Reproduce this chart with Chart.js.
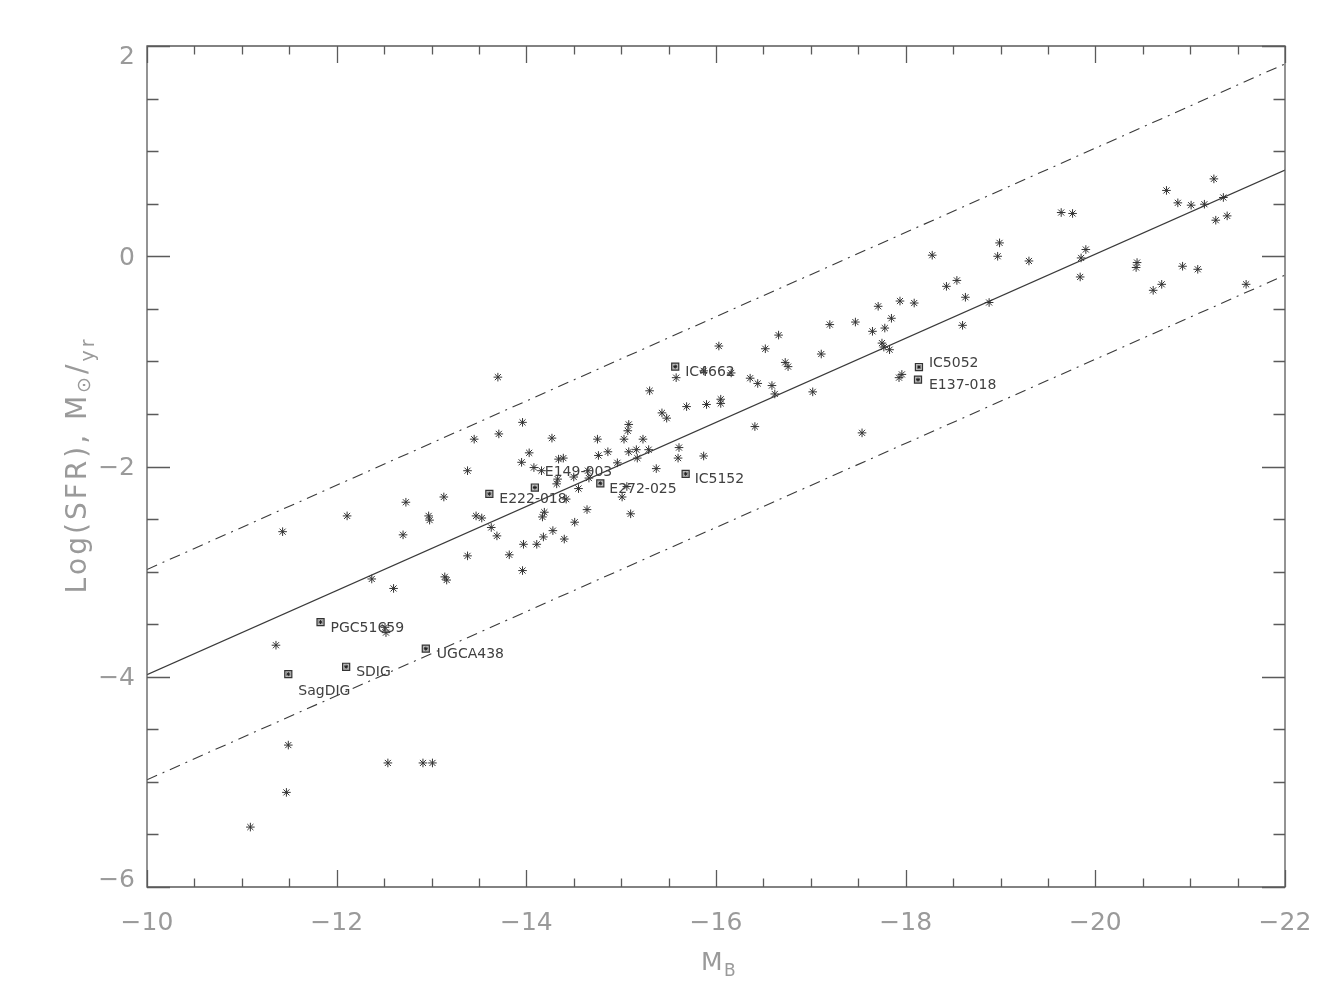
<!DOCTYPE html>
<html>
<head>
<meta charset="utf-8">
<script src="https://cdn.jsdelivr.net/npm/chart.js@4/dist/chart.umd.min.js"></script>
<style>
  html, body { margin: 0; padding: 0; background: #ffffff; }
  #wrap { width: 1331px; height: 981px; }
</style>
</head>
<body>
<div id="wrap"><canvas id="c" width="1331" height="981"></canvas></div>
<script>
// ---- data ----
const starMB = [
  -11.09, -11.43, -11.36, -11.49, -11.47, -12.54, -12.91, -13.01, -12.60, -12.51,
  -12.52, -12.11, -12.73, -12.70, -12.97, -12.98, -12.37, -13.13, -13.14, -13.16,
  -13.96, -13.45, -13.71, -14.27, -14.03, -13.95, -14.34, -14.39, -13.38, -14.08,
  -14.16, -14.33, -14.32, -13.47, -13.53, -14.19, -14.17, -13.63, -13.69, -14.28,
  -14.40, -14.18, -14.11, -13.97, -13.38, -13.82, -13.96, -13.70,
  -15.58, -15.30, -15.69, -15.90, -15.43, -15.48, -15.08, -15.07, -14.75, -15.03,
  -15.23, -14.86, -14.76, -15.08, -15.16, -15.29, -15.17, -14.96, -15.61, -15.60,
  -15.87, -15.37, -14.65, -14.50, -14.66, -14.55, -15.06, -15.01, -14.42, -14.64,
  -14.51, -15.10, -16.05, -16.05,
  -17.20, -17.47, -16.66, -16.03, -16.52, -17.11, -16.73, -16.76, -16.16, -15.87,
  -16.36, -16.44, -16.59, -16.62, -17.02, -16.41, -17.54,
  -18.99, -18.97, -18.28, -19.30, -18.54, -18.43, -18.63, -18.88, -17.94, -18.09,
  -17.71, -17.85, -17.65, -17.78, -18.60, -17.75, -17.77, -17.83, -17.96, -17.93,
  -19.64, -19.76, -19.90, -19.85, -19.84, -20.44, -20.43, -20.70, -20.61, -20.92,
  -21.08, -21.59, -20.75, -20.87, -21.01, -21.15, -21.25, -21.35, -21.27, -21.39
];
const starLogSFR = [
  -5.43, -2.62, -3.70, -4.65, -5.10, -4.82, -4.82, -4.82, -3.16, -3.53,
  -3.58, -2.47, -2.34, -2.65, -2.47, -2.51, -3.07, -2.29, -3.05, -3.08,
  -1.58, -1.74, -1.69, -1.73, -1.87, -1.96, -1.93, -1.92, -2.04, -2.01,
  -2.04, -2.12, -2.165, -2.47, -2.49, -2.435, -2.48, -2.58, -2.66, -2.61,
  -2.69, -2.67, -2.74, -2.74, -2.85, -2.84, -2.99, -1.15,
  -1.155, -1.28, -1.43, -1.41, -1.49, -1.54, -1.60, -1.66, -1.74, -1.74,
  -1.74, -1.86, -1.895, -1.86, -1.84, -1.84, -1.92, -1.965, -1.82, -1.92,
  -1.90, -2.02, -2.04, -2.10, -2.11, -2.21, -2.19, -2.29, -2.31, -2.41,
  -2.53, -2.45, -1.36, -1.40,
  -0.65, -0.626, -0.75, -0.854, -0.88, -0.93, -1.01, -1.05, -1.11, -1.09,
  -1.16, -1.21, -1.23, -1.31, -1.29, -1.62, -1.68,
  0.127, 0.0, 0.01, -0.045, -0.23, -0.286, -0.39, -0.44, -0.426, -0.445,
  -0.476, -0.59, -0.714, -0.683, -0.657, -0.826, -0.864, -0.889, -1.124, -1.155,
  0.416, 0.407, 0.064, -0.016, -0.197, -0.06, -0.107, -0.267, -0.324, -0.095,
  -0.124, -0.267, 0.626, 0.508, 0.486, 0.495, 0.736, 0.559, 0.343, 0.384
];

const namedLabels = ['PGC51659', 'SagDIG', 'SDIG', 'UGCA438', 'E222-018', 'E149-003',
                     'E272-025', 'IC5152', 'IC4662', 'IC5052', 'E137-018'];
const namedMB     = [-11.83, -11.49, -12.10, -12.94, -13.61, -14.09, -14.78, -15.68, -15.57, -18.14, -18.13];
const namedLogSFR = [-3.48, -3.975, -3.905, -3.733, -2.26, -2.20, -2.16, -2.07, -1.05, -1.054, -1.174];

const fitMB       = [-10, -22];
const fitLogSFR   = [-3.98, 0.82];
const upperLogSFR = [-2.98, 1.83];
const lowerLogSFR = [-4.98, -0.18];

const xTickValues = [-10, -12, -14, -16, -18, -20, -22];
const yTickValues = [-6, -4, -2, 0, 2];

// ---- styles / layout (kept separate from data) ----
const LABEL_OFFSETS = {
  'PGC51659': [10, 6], 'SagDIG': [10, 17], 'SDIG': [10, 6], 'UGCA438': [11, 6],
  'E222-018': [10, 6], 'E149-003': [10, -15], 'E272-025': [9, 6], 'IC5152': [9, 6],
  'IC4662': [10, 6], 'IC5052': [10, -4], 'E137-018': [11, 6]
};
const AXIS_COLOR = '#5a5a5a';
const TEXT_GREY = '#9a9a9a';
const INK = '#3a3a3a';

const toPts = (xs, ys) => xs.map((x, i) => ({ x: x, y: ys[i] }));
const fmt = v => (v < 0 ? '\u2212' + Math.abs(v) : String(v));

const framePlugin = {
  id: 'frame',
  afterDatasetsDraw(chart) {
    const { ctx, chartArea: a, scales } = chart;
    const xs = scales.x, ys = scales.y;
    ctx.save();
    ctx.strokeStyle = AXIS_COLOR;
    ctx.lineWidth = 1.3;
    ctx.beginPath();
    ctx.rect(a.left, a.top, a.right - a.left, a.bottom - a.top);
    ctx.stroke();
    ctx.beginPath();
    for (let v = -10; v >= -22 - 1e-9; v -= 0.5) {
      const major = Math.abs(v % 2) < 1e-9;
      const len = major ? 17 : 8.5;
      const px = Math.round(xs.getPixelForValue(v)) + 0.5;
      ctx.moveTo(px, a.bottom); ctx.lineTo(px, a.bottom - len);
      ctx.moveTo(px, a.top); ctx.lineTo(px, a.top + len);
    }
    for (let v = -6; v <= 2 + 1e-9; v += 0.5) {
      const major = Math.abs(v % 2) < 1e-9;
      const len = major ? 23 : 11.5;
      const py = Math.round(ys.getPixelForValue(v)) + 0.5;
      ctx.moveTo(a.left, py); ctx.lineTo(a.left + len, py);
      ctx.moveTo(a.right, py); ctx.lineTo(a.right - len, py);
    }
    ctx.stroke();

    // y tick labels (IDL keeps the end labels inside the axis range)
    ctx.fillStyle = TEXT_GREY;
    ctx.font = '25px "DejaVu Sans"';
    ctx.textAlign = 'right';
    ctx.textBaseline = 'middle';
    ys.ticks.forEach(t => {
      let py = ys.getPixelForValue(t.value);
      py = Math.min(Math.max(py + 2, a.top + 11), a.bottom - 7);
      ctx.fillText(fmt(t.value), a.left - 12, py);
    });

    // galaxy labels
    ctx.fillStyle = '#404040';
    ctx.font = '14px "DejaVu Sans"';
    ctx.textBaseline = 'middle';
    ctx.textAlign = 'left';
    namedLabels.forEach((lab, i) => {
      const px = xs.getPixelForValue(namedMB[i]);
      const py = ys.getPixelForValue(namedLogSFR[i]);
      const off = LABEL_OFFSETS[lab];
      ctx.fillText(lab, px + off[0], py + off[1]);
    });

    // x axis title: M_B
    ctx.fillStyle = TEXT_GREY;
    ctx.textBaseline = 'alphabetic';
    ctx.font = '25px "DejaVu Sans"';
    const cx = (a.left + a.right) / 2;
    ctx.fillText('M', cx - 15, 970);
    ctx.font = '17px "DejaVu Sans"';
    ctx.fillText('B', cx + 8, 976);

    // y axis title: Log(SFR), M_sun/yr, centred on the axis
    const parts = [
      { s: 'Log(SFR), M', f: 28, dy: 0 },
      { s: '\u2299', f: 19, dy: 4 },
      { s: '/', f: 28, dy: 0 },
      { s: 'yr', f: 19, dy: 8 }
    ];
    const gap = 3;
    let total = 0, nChars = 0;
    parts.forEach(p => {
      ctx.font = p.f + 'px "DejaVu Sans"';
      for (const ch of p.s) { total += ctx.measureText(ch).width; nChars++; }
    });
    total += gap * (nChars - 1);
    const cy = (a.top + a.bottom) / 2;
    ctx.save();
    ctx.translate(86, cy + total / 2);
    ctx.rotate(-Math.PI / 2);
    let xpos = 0;
    parts.forEach(p => {
      ctx.font = p.f + 'px "DejaVu Sans"';
      for (const ch of p.s) {
        ctx.fillText(ch, xpos, p.dy);
        xpos += ctx.measureText(ch).width + gap;
      }
    });
    ctx.restore();

    ctx.restore();
  }
};

new Chart(document.getElementById('c'), {
  type: 'scatter',
  data: {
    datasets: [
      { type: 'line', data: toPts(fitMB, fitLogSFR), borderColor: INK, borderWidth: 1.1,
        pointRadius: 0, fill: false, order: 5 },
      { type: 'line', data: toPts(fitMB, upperLogSFR), borderColor: INK, borderWidth: 1.1,
        borderDash: [11, 6, 2, 6], pointRadius: 0, fill: false, order: 5 },
      { type: 'line', data: toPts(fitMB, lowerLogSFR), borderColor: INK, borderWidth: 1.1,
        borderDash: [11, 6, 2, 6], pointRadius: 0, fill: false, order: 5 },
      { data: toPts(starMB, starLogSFR), pointStyle: 'star', pointRadius: 4.3,
        borderColor: '#333', borderWidth: 1, backgroundColor: '#333', order: 1 },
      { data: toPts(namedMB, namedLogSFR), pointStyle: 'rect', pointRadius: 5,
        borderColor: '#333', borderWidth: 1.2, backgroundColor: '#bbb', order: 2 },
      { data: toPts(namedMB, namedLogSFR), pointStyle: 'star', pointRadius: 2,
        borderColor: '#222', borderWidth: 1, order: 0 }
    ]
  },
  options: {
    responsive: false,
    animation: false,
    layout: { padding: { top: 46, right: 46, left: 0, bottom: 0 } },
    plugins: { legend: { display: false }, tooltip: { enabled: false } },
    scales: {
      x: {
        type: 'linear', min: -22, max: -10, reverse: true,
        afterBuildTicks: s => { s.ticks = xTickValues.map(v => ({ value: v })); },
        afterFit: s => { s.height = 94; },
        grid: { display: false }, border: { display: false },
        ticks: { padding: 13, color: TEXT_GREY, font: { family: 'DejaVu Sans', size: 25 },
                 callback: v => fmt(v), maxRotation: 0 }
      },
      y: {
        type: 'linear', min: -6, max: 2,
        afterBuildTicks: s => { s.ticks = yTickValues.map(v => ({ value: v })); },
        afterFit: s => { s.width = 147; },
        grid: { display: false }, border: { display: false },
        ticks: { display: false }
      }
    }
  },
  plugins: [framePlugin]
});
</script>
</body>
</html>
